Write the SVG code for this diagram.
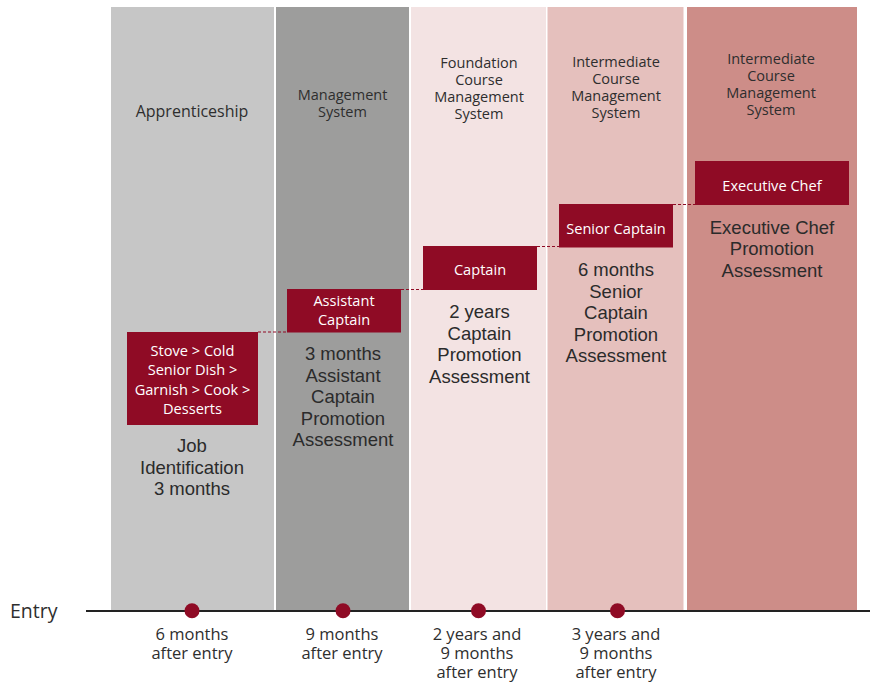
<svg xmlns="http://www.w3.org/2000/svg" width="870" height="683" viewBox="0 0 870 683">
  <style>
    .hdr { font-family: "Open Sans", "Noto Sans", "DejaVu Sans", sans-serif; font-size: 14.5px; fill: #2e2e2e; text-anchor: middle; }
    .role { font-family: "Open Sans", "Noto Sans", "DejaVu Sans", sans-serif; font-size: 14.6px; fill: #ffffff; text-anchor: middle; }
    .desc { font-family: "Liberation Sans", Arial, sans-serif; font-size: 18.5px; fill: #2b2b2b; text-anchor: middle; }
    .time { font-family: "Open Sans", "Noto Sans", "DejaVu Sans", sans-serif; font-size: 16.5px; fill: #2e2e2e; text-anchor: middle; }
    .box { fill: #8f0b25; }
    .dash { stroke: #8f0b25; stroke-width: 1.2; stroke-dasharray: 3 2; fill: none; }
    .dot { fill: #8f0b25; }
  </style>

  <rect width="870" height="683" fill="#ffffff"/>

  <!-- stage bands -->
  <g id="bands">
    <rect x="111" y="7" width="163" height="604" fill="#c6c6c6"/>
    <rect x="276" y="7" width="133" height="604" fill="#9d9d9c"/>
    <rect x="411" y="7" width="135" height="604" fill="#f3e3e3"/>
    <rect x="547.5" y="7" width="136" height="604" fill="#e5c0bd"/>
    <rect x="687" y="7" width="170" height="604" fill="#cd8d88"/>
  </g>

  <!-- band headings -->
  <g id="headings">
    <text class="hdr" x="192" y="117" style="font-size:16px">Apprenticeship</text>
    <text class="hdr" x="342.5" y="100">Management</text>
    <text class="hdr" x="342.5" y="117">System</text>
    <text class="hdr" x="479" y="68">Foundation</text>
    <text class="hdr" x="479" y="85">Course</text>
    <text class="hdr" x="479" y="102">Management</text>
    <text class="hdr" x="479" y="119">System</text>
    <text class="hdr" x="616" y="67">Intermediate</text>
    <text class="hdr" x="616" y="84">Course</text>
    <text class="hdr" x="616" y="101">Management</text>
    <text class="hdr" x="616" y="118">System</text>
    <text class="hdr" x="771" y="64">Intermediate</text>
    <text class="hdr" x="771" y="81">Course</text>
    <text class="hdr" x="771" y="98">Management</text>
    <text class="hdr" x="771" y="115">System</text>
  </g>

  <!-- step connectors -->
  <g id="connectors">
    <line class="dash" x1="258" y1="332" x2="287" y2="332"/>
    <line class="dash" x1="401" y1="289.5" x2="423" y2="289.5"/>
    <line class="dash" x1="537" y1="246.5" x2="559" y2="246.5"/>
    <line class="dash" x1="673" y1="204.5" x2="695" y2="204.5"/>
  </g>

  <g id="node-kitchen">
    <rect class="box" x="127" y="332" width="131" height="93"/>
    <text class="role" x="192.5" y="356">Stove &gt; Cold</text>
    <text class="role" x="192.5" y="375">Senior Dish &gt;</text>
    <text class="role" x="192.5" y="394.5">Garnish &gt; Cook &gt;</text>
    <text class="role" x="192.5" y="413.5">Desserts</text>
    <text class="desc" x="192" y="452">Job</text>
    <text class="desc" x="192" y="473.5">Identification</text>
    <text class="desc" x="192" y="495">3 months</text>
  </g>

  <g id="node-assistant-captain">
    <rect class="box" x="287" y="289" width="114" height="43.5"/>
    <text class="role" x="344" y="305.5">Assistant</text>
    <text class="role" x="344" y="324.5">Captain</text>
    <text class="desc" x="343" y="360">3 months</text>
    <text class="desc" x="343" y="381.5">Assistant</text>
    <text class="desc" x="343" y="403">Captain</text>
    <text class="desc" x="343" y="424.5">Promotion</text>
    <text class="desc" x="343" y="446">Assessment</text>
  </g>

  <g id="node-captain">
    <rect class="box" x="423" y="246" width="114" height="44"/>
    <text class="role" x="480" y="275">Captain</text>
    <text class="desc" x="479.5" y="318">2 years</text>
    <text class="desc" x="479.5" y="339.5">Captain</text>
    <text class="desc" x="479.5" y="361">Promotion</text>
    <text class="desc" x="479.5" y="382.5">Assessment</text>
  </g>

  <g id="node-senior-captain">
    <rect class="box" x="559" y="204" width="114" height="43.5"/>
    <text class="role" x="616" y="233.5">Senior Captain</text>
    <text class="desc" x="616" y="276">6 months</text>
    <text class="desc" x="616" y="297.5">Senior</text>
    <text class="desc" x="616" y="319">Captain</text>
    <text class="desc" x="616" y="340.5">Promotion</text>
    <text class="desc" x="616" y="362">Assessment</text>
  </g>

  <g id="node-executive-chef">
    <rect class="box" x="695" y="161" width="154" height="44"/>
    <text class="role" x="772" y="191">Executive Chef</text>
    <text class="desc" x="772" y="233.5">Executive Chef</text>
    <text class="desc" x="772" y="255">Promotion</text>
    <text class="desc" x="772" y="276.5">Assessment</text>
  </g>

  <!-- time axis -->
  <g id="timeline">
    <text x="10" y="618" style="font-family:'Open Sans','Noto Sans','DejaVu Sans',sans-serif;font-size:19.5px;fill:#2e2e2e">Entry</text>
    <line x1="86" y1="611" x2="870" y2="611" stroke="#222222" stroke-width="2"/>
    <circle class="dot" cx="192" cy="610.7" r="7.5"/>
    <circle class="dot" cx="343" cy="610.7" r="7.5"/>
    <circle class="dot" cx="478.5" cy="610.7" r="7.5"/>
    <circle class="dot" cx="617.5" cy="610.7" r="7.5"/>
    <text class="time" x="192" y="639.5">6 months</text>
    <text class="time" x="192" y="658.5">after entry</text>
    <text class="time" x="342" y="639.5">9 months</text>
    <text class="time" x="342" y="658.5">after entry</text>
    <text class="time" x="477" y="639.5">2 years and</text>
    <text class="time" x="477" y="658.5">9 months</text>
    <text class="time" x="477" y="677.5">after entry</text>
    <text class="time" x="616" y="639.5">3 years and</text>
    <text class="time" x="616" y="658.5">9 months</text>
    <text class="time" x="616" y="677.5">after entry</text>
  </g>
</svg>
